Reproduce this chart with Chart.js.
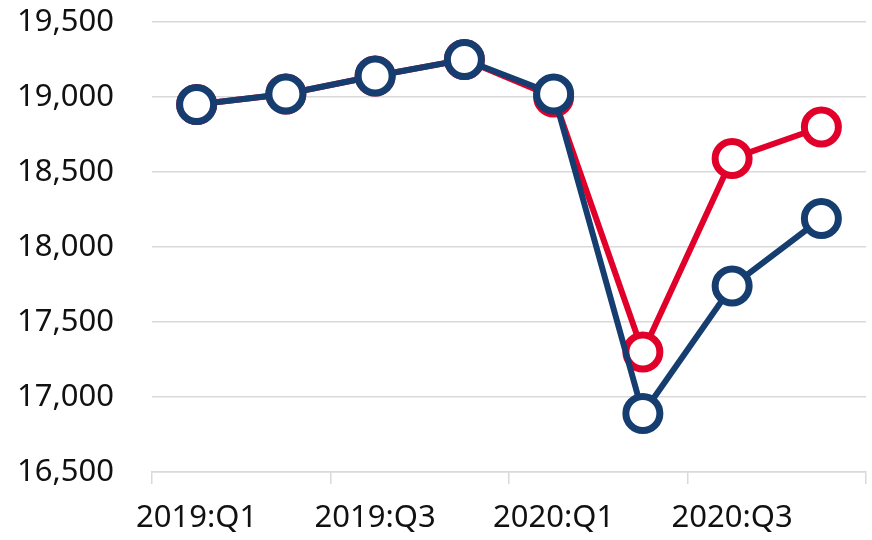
<!DOCTYPE html>
<html>
<head>
<meta charset="utf-8">
<script src="https://cdn.jsdelivr.net/npm/chart.js@4/dist/chart.umd.min.js"></script>
<style>
  html, body { margin: 0; padding: 0; background: #fff; }
  #wrap { width: 872px; height: 540px; }
</style>
</head>
<body>
<div id="wrap"><canvas id="myChart" width="872" height="540"></canvas></div>
<script>
// quarters on the x axis (only every other one is labelled)
var quarters = ['2019:Q1', '2019:Q2', '2019:Q3', '2019:Q4', '2020:Q1', '2020:Q2', '2020:Q3', '2020:Q4'];
var shownLabels = ['2019:Q1', '2019:Q3', '2020:Q1', '2020:Q3'];

// series values
var blueSeries = [18950, 19020, 19140, 19250, 19020, 16890, 17740, 18190];
var redSeries = [18950, 19020, 19140, 19250, 19000, 17300, 18590, 18800];

// y axis
var yMin = 16500;
var yMax = 19500;
var yStep = 500;

var blue = '#163d6f';
var red = '#e0002a';
var gridColor = '#d9d9d9';
var fontFamily = '"Noto Sans", "Open Sans", sans-serif';

function lineSet(label, values, color) {
  return {
    label: label,
    data: values,
    borderColor: color,
    backgroundColor: '#ffffff',
    borderWidth: 6,
    pointRadius: 17,
    pointHoverRadius: 17,
    pointBorderWidth: 7,
    pointBackgroundColor: '#ffffff',
    pointBorderColor: color,
    tension: 0,
    clip: false
  };
}

var config = {
  type: 'line',
  data: {
    labels: quarters,
    datasets: [
      lineSet('blue', blueSeries, blue),
      lineSet('red', redSeries, red)
    ]
  },
  options: {
    responsive: false,
    animation: false,
    layout: { autoPadding: false, padding: { top: 22, right: 6, left: 0, bottom: 0 } },
    plugins: {
      legend: { display: false },
      tooltip: { enabled: false }
    },
    scales: {
      x: {
        offset: true,
        grid: {
          offset: true,
          drawOnChartArea: false,
          drawTicks: true,
          tickLength: 12,
          lineWidth: 1.5,
          color: function(ctx) {
            return (ctx.index === undefined || ctx.index % 2 === 0) ? gridColor : 'rgba(0,0,0,0)';
          }
        },
        border: { display: true, color: gridColor, width: 1.5 },
        ticks: {
          autoSkip: false,
          maxRotation: 0,
          padding: 16,
          color: '#111',
          font: { family: fontFamily, size: 31 },
          callback: function(val, i) {
            var q = quarters[i];
            return shownLabels.indexOf(q) >= 0 ? q : '';
          }
        },
        afterFit: function(scale) {
          scale.height = 68;
          scale.paddingLeft = 0;
          scale.paddingRight = 0;
        }
      },
      y: {
        min: yMin,
        max: yMax,
        grid: {
          color: gridColor,
          lineWidth: 1.5,
          drawTicks: false
        },
        border: { display: false },
        ticks: {
          stepSize: yStep,
          padding: 38,
          color: '#111',
          font: { family: fontFamily, size: 31 },
          callback: function(v) { return v.toLocaleString('en-US'); }
        },
        afterFit: function(scale) {
          scale.width = 152;
          scale.paddingTop = 0;
          scale.paddingBottom = 0;
        }
      }
    }
  }
};

var ctx = document.getElementById('myChart').getContext('2d');
var myChart = new Chart(ctx, config);
</script>
</body>
</html>
